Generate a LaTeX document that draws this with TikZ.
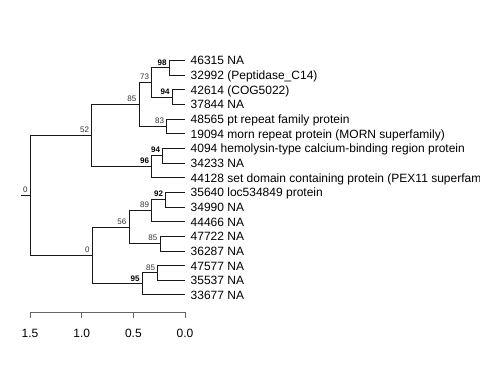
\documentclass[tikz,border=0pt]{standalone}
\usepackage{fontspec}
\setmainfont{Liberation Sans}
\begin{document}
\begin{tikzpicture}[x=1pt,y=-1pt,
  edge/.style={draw=black!90,line width=0.9pt},
  tiplab/.style={anchor=base west,inner sep=0pt,font=\fontsize{12}{14}\selectfont},
  bs/.style={anchor=south east,inner sep=0pt,font=\fontsize{8}{9}\selectfont,text=black!80},
  bsb/.style={anchor=south east,inner sep=0pt,font=\fontsize{8}{9}\selectfont\bfseries,text=black},
  axlab/.style={anchor=base,inner sep=0pt,font=\fontsize{12}{14}\selectfont}]
\useasboundingbox (0,0) rectangle (480,384);
\clip (0,0) rectangle (480,384);
% tips
\foreach \i/\lab in {0/46315 NA,1/32992 (Peptidase\_C14),2/42614 (COG5022),3/37844 NA,
  4/48565 pt repeat family protein,5/19094 morn repeat protein (MORN superfamily),
  6/4094 hemolysin-type calcium-binding region protein,7/34233 NA,
  8/44128 set domain containing protein (PEX11 superfamily),9/35640 loc534849 protein,
  10/34990 NA,11/44466 NA,12/47722 NA,13/36287 NA,14/47577 NA,15/35537 NA,16/33677 NA}{
  \coordinate (t\i) at (185,{60.5+14.65*\i});
  \node[tiplab] (l\i) at (190.5,{60.5+14.65*\i+4.4}) {\lab};
}
% internal nodes
\coordinate (n98) at (169.3,{60.5+14.65*0.5});
\coordinate (n94a) at (172.3,{60.5+14.65*2.5});
\coordinate (n73) at (151.7,{60.5+14.65*1.5});
\coordinate (n83) at (166.7,{60.5+14.65*4.5});
\coordinate (n85a) at (139,{60.5+14.65*3});
\coordinate (n94b) at (162.7,{60.5+14.65*6.5});
\coordinate (n96) at (151.7,{60.5+14.65*7.25});
\coordinate (n52) at (91.7,{60.5+14.65*5.125});
\coordinate (n92) at (165.7,{60.5+14.65*9.5});
\coordinate (n89) at (151.7,{60.5+14.65*10.25});
\coordinate (n85b) at (160,{60.5+14.65*12.5});
\coordinate (n56) at (129,{60.5+14.65*11.375});
\coordinate (n85c) at (157.7,{60.5+14.65*14.5});
\coordinate (n95) at (142.3,{60.5+14.65*15.25});
\coordinate (n0b) at (92.3,{60.5+14.65*13.3125});
\coordinate (root) at (30.3,{60.5+14.65*9.21875});
\coordinate (rstub) at (20.7,{60.5+14.65*9.21875});
% edges
\path[edge] (rstub) -- (root);
\path[edge] (root) |- (n52); \path[edge] (root) |- (n0b);
\path[edge] (n52) |- (n85a); \path[edge] (n52) |- (n96);
\path[edge] (n85a) |- (n73); \path[edge] (n85a) |- (n83);
\path[edge] (n73) |- (n98); \path[edge] (n73) |- (n94a);
\path[edge] (n98) |- (t0); \path[edge] (n98) |- (t1);
\path[edge] (n94a) |- (t2); \path[edge] (n94a) |- (t3);
\path[edge] (n83) |- (t4); \path[edge] (n83) |- (t5);
\path[edge] (n96) |- (n94b); \path[edge] (n96) |- (t8);
\path[edge] (n94b) |- (t6); \path[edge] (n94b) |- (t7);
\path[edge] (n0b) |- (n56); \path[edge] (n0b) |- (n95);
\path[edge] (n56) |- (n89); \path[edge] (n56) |- (n85b);
\path[edge] (n89) |- (n92); \path[edge] (n89) |- (t11);
\path[edge] (n92) |- (t9); \path[edge] (n92) |- (t10);
\path[edge] (n85b) |- (t12); \path[edge] (n85b) |- (t13);
\path[edge] (n95) |- (n85c); \path[edge] (n95) |- (t16);
\path[edge] (n85c) |- (t14); \path[edge] (n85c) |- (t15);
% bootstrap labels
\node[bs] (b0) at ([shift={(-2.5,-2.5)}]root) {0};
\node[bs] (b52) at ([shift={(-2.5,-2.5)}]n52) {52};
\node[bs] (b85a) at ([shift={(-2.5,-2.5)}]n85a) {85};
\node[bs] (b73) at ([shift={(-2.5,-2.5)}]n73) {73};
\node[bsb] (b98) at ([shift={(-2.5,-2.5)}]n98) {98};
\node[bsb] (b94a) at ([shift={(-2.5,-2.5)}]n94a) {94};
\node[bs] (b83) at ([shift={(-2.5,-2.5)}]n83) {83};
\node[bsb] (b96) at ([shift={(-2.5,-2.5)}]n96) {96};
\node[bsb] (b94b) at ([shift={(-2.5,-2.5)}]n94b) {94};
\node[bs] (b0b) at ([shift={(-2.5,-2.5)}]n0b) {0};
\node[bs] (b56) at ([shift={(-2.5,-2.5)}]n56) {56};
\node[bs] (b89) at ([shift={(-2.5,-2.5)}]n89) {89};
\node[bsb] (b92) at ([shift={(-2.5,-2.5)}]n92) {92};
\node[bs] (b85b) at ([shift={(-2.5,-2.5)}]n85b) {85};
\node[bsb] (b95) at ([shift={(-2.5,-2.5)}]n95) {95};
\node[bs] (b85c) at ([shift={(-2.5,-2.5)}]n85c) {85};
% axis
\coordinate (a15) at (30.05,312.3);
\coordinate (a10) at (81.7,312.3);
\coordinate (a05) at (133.35,312.3);
\coordinate (a00) at (185,312.3);
\path[edge,draw=black!60] (a15) -- (a00);
\foreach \c/\t in {a15/1.5,a10/1.0,a05/0.5,a00/0.0}{
  \path[edge,draw=black!60] (\c) -- ++(0,5.5);
  \node[axlab] (lab\c) at ([yshift=-25]\c) {\t};
}
\end{tikzpicture}
\end{document}
